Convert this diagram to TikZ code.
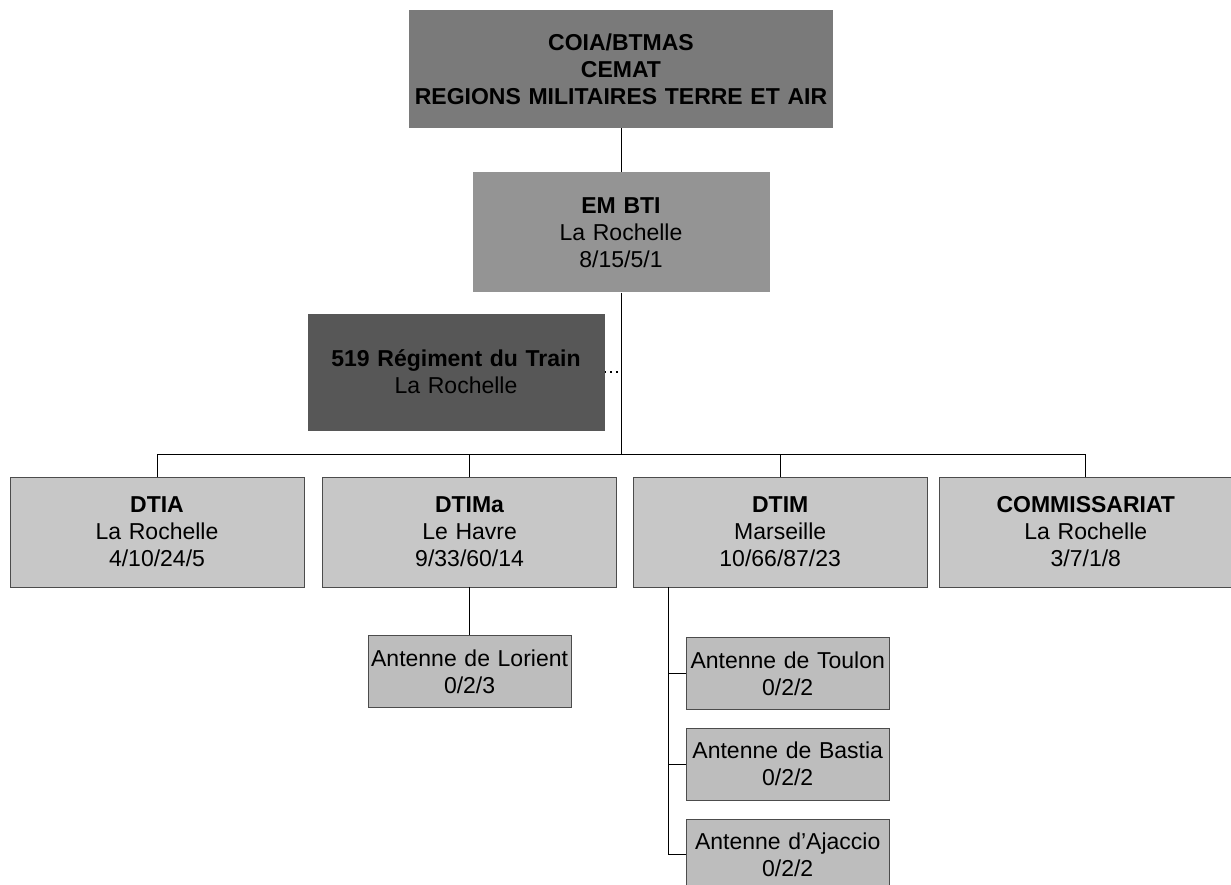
\documentclass[tikz,border=0pt]{standalone}
\usepackage{fontspec}
\setmainfont{Liberation Sans}
\usepackage{xcolor}
\usepackage{tikz}
\usetikzlibrary{positioning, calc}
\definecolor{cTop}{gray}{0.48}
\definecolor{cStaff}{gray}{0.58}
\definecolor{cTrain}{gray}{0.34}
\definecolor{cUnit}{gray}{0.78}
\definecolor{cAnt}{gray}{0.74}
\definecolor{cEdge}{gray}{0.30}

\begin{document}
\begin{tikzpicture}[
  x=1pt, y=1pt,
  every node/.style={font=\fontsize{23}{27}\selectfont},
  block/.style={rectangle, fill=#1, draw=none, align=center, inner sep=0pt},
  unit/.style={rectangle, fill=#1, draw=cEdge, line width=0.6pt, align=center,
               inner sep=0pt, text width=294pt, minimum height=110pt},
  antenne/.style={rectangle, fill=cAnt, draw=cEdge, line width=0.6pt, align=center,
                  inner sep=0pt, text width=203pt, minimum height=72pt},
  link/.style={line width=1pt, black},
]
\useasboundingbox (0,0) rectangle (1231,-885);

% Nodes
\node[block=cTop, text width=424pt, minimum height=118pt] (top) at (621,-69)
  {\textbf{COIA/BTMAS}\\ \textbf{CEMAT}\\ \textbf{REGIONS MILITAIRES TERRE ET AIR}};

\node[block=cStaff, text width=297pt, minimum height=120pt, below=44pt of top] (embti)
  {\textbf{EM BTI}\\ La Rochelle\\ 8/15/5/1};

\node[block=cTrain, text width=297pt, minimum height=117pt] (train) at (456,-372)
  {\textbf{519 Régiment du Train}\\ La Rochelle};

\node[unit=cUnit] (dtia) at (157,-532)
  {\textbf{DTIA}\\ La Rochelle\\ 4/10/24/5};

\node[unit=cUnit, right=18pt of dtia] (dtima)
  {\textbf{DTIMa}\\ Le Havre\\ 9/33/60/14};

\node[unit=cUnit, right=16pt of dtima] (dtim)
  {\textbf{DTIM}\\ Marseille\\ 10/66/87/23};

\node[unit=cUnit, right=11pt of dtim] (comm)
  {\textbf{COMMISSARIAT}\\ La Rochelle\\ 3/7/1/8};

\node[antenne, below=48pt of dtima] (lorient)
  {Antenne de Lorient\\ 0/2/3};

\node[antenne, below=50pt of dtim.south west, anchor=north west, xshift=53pt] (toulon)
  {Antenne de Toulon\\ 0/2/2};

\node[antenne, below=18pt of toulon] (bastia)
  {Antenne de Bastia\\ 0/2/2};

\node[antenne, below=18pt of bastia] (ajaccio)
  {Antenne d'Ajaccio\\ 0/2/2};

% Connectors
\coordinate (bar) at ($(embti.south)+(0,-162)$);
\coordinate (spine) at ([xshift=36pt]dtim.south west);

\draw[link] (top) -- (embti);
\draw[link] (embti) -- (bar);
\draw[link, line width=1.6pt, dash pattern=on 1.6pt off 4pt] (train.east) -- (train.east -| embti.south);
\draw[link] (dtia.north) |- (bar) -| (comm.north);
\draw[link] (dtima.north) -- (dtima.north |- bar);
\draw[link] (dtim.north) -- (dtim.north |- bar);
\draw[link] (dtima) -- (lorient);
\draw[link] (spine) |- (toulon.west);
\draw[link] (spine) |- (bastia.west);
\draw[link] (spine) |- (ajaccio.west);

\end{tikzpicture}
\end{document}
